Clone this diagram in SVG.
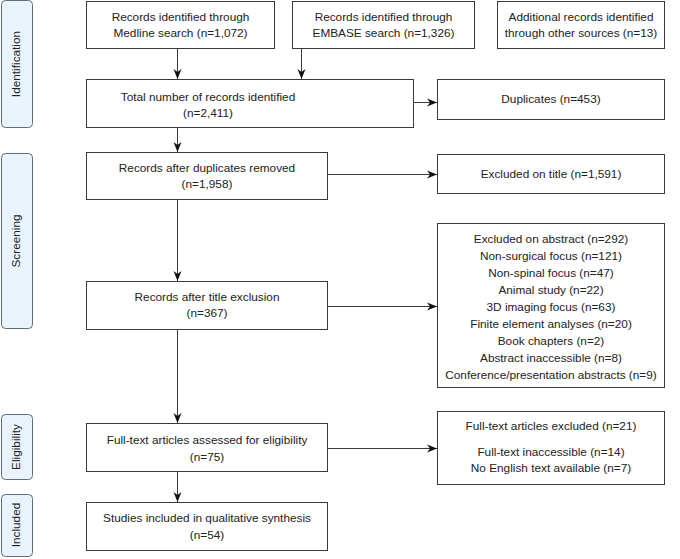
<svg xmlns="http://www.w3.org/2000/svg" width="680" height="559" viewBox="0 0 680 559">
<defs>
<style>
.box{fill:#fff;stroke:#3a3a3a;stroke-width:1}
.side{fill:#e8f3fc;stroke:#5f6d7a;stroke-width:1}
text{font-family:"Liberation Sans",Arial,sans-serif;font-size:11.8px;fill:#222;text-anchor:middle}
.conn{stroke:#3a3a3a;stroke-width:1;fill:none;marker-end:url(#ah)}
</style>
<marker id="ah" viewBox="0 0 10 10" refX="10" refY="5" markerWidth="10" markerHeight="10" markerUnits="userSpaceOnUse" orient="auto">
<path d="M0,1 L10,5 L0,9 L3,5 Z" fill="#111"/>
</marker>
</defs>
<g id="side-identification"><rect class="side" x="1.5" y="0.5" width="31" height="127" rx="4"/><text transform="translate(20,64) rotate(-90)">Identification</text></g>
<g id="side-screening"><rect class="side" x="1.5" y="153.5" width="31" height="175" rx="4"/><text transform="translate(20,241) rotate(-90)">Screening</text></g>
<g id="side-eligibility"><rect class="side" x="1.5" y="414.5" width="31" height="65" rx="4"/><text transform="translate(20,447) rotate(-90)">Eligibility</text></g>
<g id="side-included"><rect class="side" x="1.5" y="494.5" width="31" height="62" rx="4"/><text transform="translate(20,525) rotate(-90)">Included</text></g>

<g id="medline"><rect class="box" x="86.5" y="1.5" width="188" height="47"/><text x="180.5" y="21">Records identified through</text><text x="180.5" y="37">Medline search (n=1,072)</text></g>
<g id="embase"><rect class="box" x="292.5" y="1.5" width="182" height="47"/><text x="383.5" y="21">Records identified through</text><text x="383.5" y="37">EMBASE search (n=1,326)</text></g>
<g id="additional"><rect class="box" x="497.5" y="1.5" width="167" height="47"/><text x="581" y="21">Additional records identified</text><text x="581" y="37">through other sources (n=13)</text></g>

<g id="total"><rect class="box" x="86.5" y="79.5" width="327" height="48"/><text x="208" y="101">Total number of records identified</text><text x="208" y="117">(n=2,411)</text></g>
<g id="duplicates"><rect class="box" x="437.5" y="79.5" width="227" height="40"/><text x="551" y="103">Duplicates (n=453)</text></g>

<g id="dupremoved"><rect class="box" x="86.5" y="152.5" width="241" height="47"/><text x="207" y="172">Records after duplicates removed</text><text x="207" y="188">(n=1,958)</text></g>
<g id="excltitle"><rect class="box" x="437.5" y="154.5" width="227" height="39"/><text x="551" y="178">Excluded on title (n=1,591)</text></g>

<g id="titleexcl"><rect class="box" x="86.5" y="281.5" width="241" height="48"/><text x="207" y="301">Records after title exclusion</text><text x="207" y="317">(n=367)</text></g>
<g id="exclabstract"><rect class="box" x="437.5" y="223.5" width="227" height="164"/>
<text x="551" y="243">Excluded on abstract (n=292)</text>
<text x="551" y="260">Non-surgical focus (n=121)</text>
<text x="551" y="277">Non-spinal focus (n=47)</text>
<text x="551" y="294">Animal study (n=22)</text>
<text x="551" y="311">3D imaging focus (n=63)</text>
<text x="551" y="328">Finite element analyses (n=20)</text>
<text x="551" y="345">Book chapters (n=2)</text>
<text x="551" y="362">Abstract inaccessible (n=8)</text>
<text x="551" y="379">Conference/presentation abstracts (n=9)</text>
</g>

<g id="fulltext"><rect class="box" x="86.5" y="423.5" width="241" height="48"/><text x="207" y="444">Full-text articles assessed for eligibility</text><text x="207" y="461">(n=75)</text></g>
<g id="fullexcl"><rect class="box" x="437.5" y="411.5" width="227" height="73"/>
<text x="551" y="430">Full-text articles excluded (n=21)</text>
<text x="551" y="456">Full-text inaccessible (n=14)</text>
<text x="551" y="472">No English text available (n=7)</text>
</g>

<g id="included"><rect class="box" x="86.5" y="502.5" width="241" height="48"/><text x="207" y="522">Studies included in qualitative synthesis</text><text x="207" y="539">(n=54)</text></g>

<g id="connectors">
<path class="conn" d="M177.5,49 V79"/>
<path class="conn" d="M301.5,49 V79"/>
<path class="conn" d="M414,102.5 H437"/>
<path class="conn" d="M177.5,128 V152"/>
<path class="conn" d="M328,174.5 H437"/>
<path class="conn" d="M177.5,200 V281"/>
<path class="conn" d="M328,306.5 H437"/>
<path class="conn" d="M177.5,330 V423"/>
<path class="conn" d="M328,448.5 H437"/>
<path class="conn" d="M177.5,472 V502"/>
</g>
</svg>
